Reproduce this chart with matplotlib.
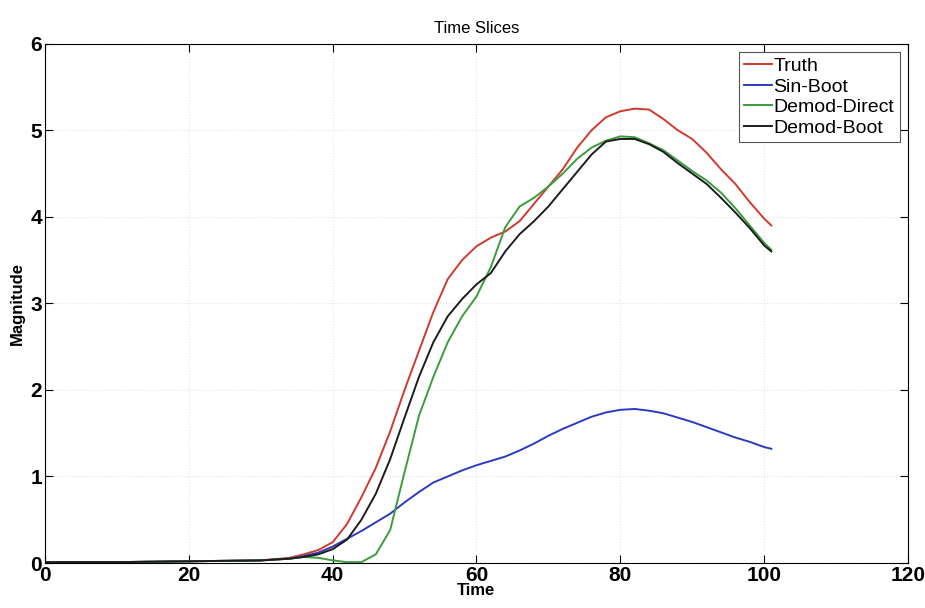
import numpy as np
import matplotlib
matplotlib.use("Agg")
import matplotlib.pyplot as plt

# sample times
time = [0, 10, 20, 30, 34, 36, 38, 40, 42, 44, 46, 48, 50, 52, 54, 56, 58, 60,
        62, 64, 66, 68, 70, 72, 74, 76, 78, 80, 82, 84, 86, 88, 90, 92, 94, 96,
        98, 100, 101]

truth = [0.01, 0.01, 0.02, 0.03, 0.06, 0.10, 0.15, 0.24, 0.45, 0.76, 1.10,
         1.52, 2.00, 2.45, 2.90, 3.28, 3.50, 3.66, 3.76, 3.83, 3.95, 4.15, 4.35,
         4.55, 4.80, 5.00, 5.15, 5.22, 5.25, 5.24, 5.13, 5.00, 4.90, 4.74, 4.55,
         4.38, 4.17, 3.98, 3.90]

sin_boot = [0.01, 0.01, 0.02, 0.03, 0.05, 0.08, 0.12, 0.19, 0.28, 0.37, 0.47,
            0.57, 0.70, 0.82, 0.93, 1.00, 1.07, 1.13, 1.18, 1.23, 1.30, 1.38,
            1.47, 1.55, 1.62, 1.69, 1.74, 1.77, 1.78, 1.76, 1.73, 1.68, 1.63,
            1.57, 1.51, 1.45, 1.40, 1.34, 1.32]

demod_direct = [0.01, 0.01, 0.02, 0.03, 0.05, 0.07, 0.06, 0.03, 0.01, 0.01,
                0.10, 0.38, 1.05, 1.70, 2.15, 2.55, 2.85, 3.08, 3.42, 3.88, 4.12,
                4.22, 4.35, 4.50, 4.67, 4.80, 4.88, 4.93, 4.92, 4.85, 4.77, 4.65,
                4.53, 4.42, 4.28, 4.10, 3.90, 3.70, 3.62]

demod_boot = [0.01, 0.01, 0.02, 0.03, 0.05, 0.07, 0.10, 0.16, 0.27, 0.50, 0.80,
              1.20, 1.68, 2.15, 2.55, 2.85, 3.05, 3.22, 3.35, 3.60, 3.80, 3.95,
              4.12, 4.32, 4.52, 4.72, 4.87, 4.90, 4.90, 4.84, 4.75, 4.62, 4.50,
              4.38, 4.22, 4.05, 3.87, 3.67, 3.60]

series = [("Truth", truth, "#d0392e"),
          ("Sin-Boot", sin_boot, "#2a3bbf"),
          ("Demod-Direct", demod_direct, "#3c9c3c"),
          ("Demod-Boot", demod_boot, "#1c1c1c")]

plt.rcParams["font.family"] = ["Liberation Sans", "DejaVu Sans"]

fig = plt.figure(figsize=(9.25, 6.08), dpi=100)
ax = fig.add_axes([0.0486, 0.074, 0.933, 0.854])

for name, vals, col in series:
    ax.plot(time, vals, color=col, lw=1.4, label=name)

ax.set_xlim(0, 120)
ax.set_ylim(0, 6)
ax.set_xticks(np.arange(0, 121, 20))
ax.set_yticks(np.arange(0, 7, 1))
ax.tick_params(direction="in", top=True, right=True, length=6, labelsize=15, pad=2)
for lab in ax.get_xticklabels() + ax.get_yticklabels():
    lab.set_fontweight("bold")
ax.grid(True, ls=":", color="#e2e2e2", lw=0.8)

ax.set_title("Time Slices", fontsize=12, pad=8)
ax.set_xlabel("Time", fontsize=12, fontweight="bold", labelpad=-1)
ax.set_ylabel("Magnitude", fontsize=12, fontweight="bold", labelpad=4)

leg = ax.legend(loc="upper right", fontsize=14, handlelength=1.4, handletextpad=0.1,
                borderaxespad=0.4, fancybox=False, framealpha=1, labelspacing=0.15,
                borderpad=0.3)
leg.get_frame().set_edgecolor("#555555")
leg.get_frame().set_linewidth(0.8)

fig.savefig("out.png", dpi=100)
